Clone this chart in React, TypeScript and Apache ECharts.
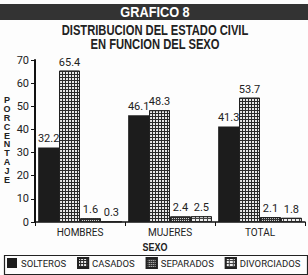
import React, { useEffect, useRef } from "react";
import * as echarts from "echarts";

const categories = ["HOMBRES", "MUJERES", "TOTAL"];
const seriesNames = ["SOLTEROS", "CASADOS", "SEPARADOS", "DIVORCIADOS"];
const solteros = [32.2, 46.1, 41.3];
const casados = [65.4, 48.3, 53.7];
const separados = [1.6, 2.4, 2.1];
const divorciados = [0.3, 2.5, 1.8];
const yTicks = { min: 0, max: 70, interval: 10 };

const FONT = "Roboto, 'Liberation Sans', sans-serif";
const TFONT = "'Liberation Sans', Roboto, sans-serif";

export default function App() {
  const ref = useRef<HTMLDivElement>(null);
  useEffect(() => {
    if (!ref.current) return;
    const chart = echarts.init(ref.current, undefined, { renderer: "svg" });
    const styles = [
      { color: "#1c1c1c" },
      {
        color: "#2a2a2a",
        borderColor: "#222",
        borderWidth: 1,
        decal: { symbol: "rect", symbolSize: 1, color: "#e8e8e8", dashArrayX: [2, 1], dashArrayY: [2, 1], rotation: 0 },
      },
      {
        color: "#333",
        borderColor: "#222",
        borderWidth: 1,
        decal: { symbol: "rect", symbolSize: 1, color: "#cfcfcf", dashArrayX: [1, 1], dashArrayY: [1, 1], rotation: 0 },
      },
      {
        color: "#444",
        borderColor: "#222",
        borderWidth: 1,
        decal: { symbol: "rect", symbolSize: 1, color: "#eeeeee", dashArrayX: [3, 1], dashArrayY: [2, 1], rotation: 0 },
      },
    ];
    const datas = [solteros, casados, separados, divorciados];
    chart.setOption({
      animation: false,
      backgroundColor: "#fdfdfd",
      textStyle: { fontFamily: FONT },
      grid: { left: 35, right: 3, top: 60, bottom: 53 },
      xAxis: {
        type: "category",
        data: categories,
        axisLine: { lineStyle: { color: "#111", width: 1.5 } },
        axisTick: { show: true, alignWithLabel: false, length: 4, lineStyle: { color: "#111" } },
        axisLabel: { color: "#222", fontSize: 10, fontFamily: FONT, margin: 5 },
      },
      yAxis: {
        type: "value",
        min: yTicks.min,
        max: yTicks.max,
        interval: yTicks.interval,
        splitLine: { show: false },
        axisLine: { show: true, lineStyle: { color: "#111", width: 2 } },
        axisTick: { show: true, length: 4, lineStyle: { color: "#111" } },
        axisLabel: { color: "#222", fontSize: 11, fontFamily: FONT, margin: 6 },
      },
      legend: {
        left: 7,
        top: 257,
        width: 300,
        padding: 0,
        itemWidth: 10,
        itemHeight: 10,
        itemGap: 11,
        icon: "rect",
        textStyle: { fontSize: 9.5, color: "#222", fontFamily: FONT, padding: [0, 0, 0, -1] },
        data: seriesNames,
      },
      series: seriesNames.map((name, i) => ({
        name,
        type: "bar",
        data: datas[i],
        barGap: "0%",
        barCategoryGap: "7%",
        itemStyle: styles[i],
        label: {
          show: true,
          position: "top",
          distance: 3,
          fontSize: 11,
          color: "#222",
          fontFamily: FONT,
        },
      })),
      graphic: [
        { type: "rect", left: 0, top: 4, shape: { width: 308, height: 16 }, style: { fill: "#333" } },
        {
          type: "text",
          x: 155,
          y: 12,
          scaleX: 0.85,
          style: { text: "GRAFICO 8", fill: "#fff", font: `bold 15px ${TFONT}`, textAlign: "center", textVerticalAlign: "middle" },
        },
        {
          type: "text",
          x: 155,
          y: 31,
          scaleX: 0.8,
          style: { text: "DISTRIBUCION DEL ESTADO CIVIL", fill: "#222", font: `bold 14px ${TFONT}`, textAlign: "center", textVerticalAlign: "middle" },
        },
        {
          type: "text",
          x: 155,
          y: 45,
          scaleX: 0.8,
          style: { text: "EN FUNCION DEL SEXO", fill: "#222", font: `bold 14px ${TFONT}`, textAlign: "center", textVerticalAlign: "middle" },
        },
        {
          type: "text",
          x: 7,
          y: 96,
          style: {
            text: "PORCENTAJE".split("").join("\n"),
            fill: "#222",
            font: `bold 9px ${TFONT}`,
            lineHeight: 8.8,
            textAlign: "center",
          },
        },
        {
          type: "text",
          x: 155,
          y: 247,
          scaleX: 0.9,
          style: { text: "SEXO", fill: "#222", font: `bold 10px ${TFONT}`, textAlign: "center", textVerticalAlign: "middle" },
        },
        {
          type: "rect",
          left: 2,
          top: 253,
          shape: { width: 303, height: 19 },
          style: { fill: "none", stroke: "#222", lineWidth: 1.2 },
          z: -1,
        },
      ],
    });
    return () => chart.dispose();
  }, []);
  return <div ref={ref} style={{ position: "fixed", left: 0, top: 0, width: 308, height: 275 }} />;
}
